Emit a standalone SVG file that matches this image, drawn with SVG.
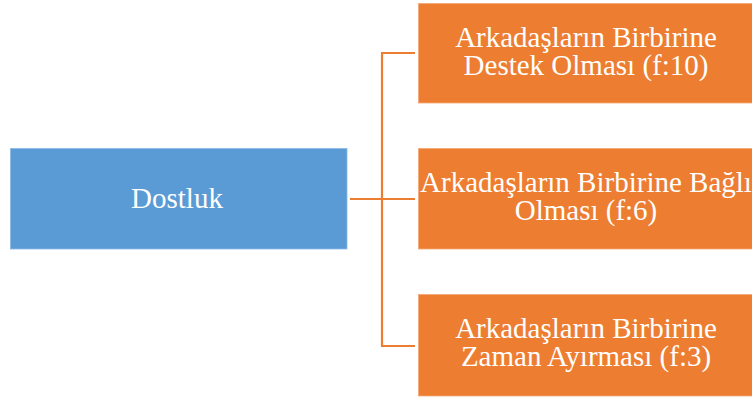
<svg xmlns="http://www.w3.org/2000/svg" width="752" height="398" viewBox="0 0 752 398">
<style>
.o{fill:#ED7D31;stroke:#F4A877;stroke-width:0.8}
.b{fill:#5B9BD5;stroke:#8DB8E3;stroke-width:0.8}
.t{font-family:"Liberation Serif","Times New Roman",serif;font-size:29px;fill:#FFFFFF;text-anchor:middle}
.c{fill:none;stroke:#ED7D31;stroke-width:2.2}
</style>
<rect width="752" height="398" fill="#FFFFFF"/>
<g id="connectors">
<path class="c" d="M350 199 H415"/>
<path class="c" d="M382 53 V346"/>
<path class="c" d="M381 53 H415"/>
<path class="c" d="M381 346 H415"/>
</g>
<g id="dostluk">
<rect class="b" x="10.5" y="148.5" width="336.5" height="100.5"/>
<text class="t" x="177" y="208">Dostluk</text>
</g>
<g id="destek">
<rect class="o" x="418.5" y="3.5" width="336" height="99.5"/>
<text class="t" x="586" y="47">Arkadaşların Birbirine</text>
<text class="t" x="586" y="75">Destek Olması (f:10)</text>
</g>
<g id="bagli">
<rect class="o" x="418.5" y="148.5" width="336" height="100.5"/>
<text class="t" x="586" y="192">Arkadaşların Birbirine Bağlı</text>
<text class="t" x="586" y="220">Olması (f:6)</text>
</g>
<g id="zaman">
<rect class="o" x="418.5" y="294.5" width="336" height="101.5"/>
<text class="t" x="586" y="338">Arkadaşların Birbirine</text>
<text class="t" x="586" y="366">Zaman Ayırması (f:3)</text>
</g>
</svg>
